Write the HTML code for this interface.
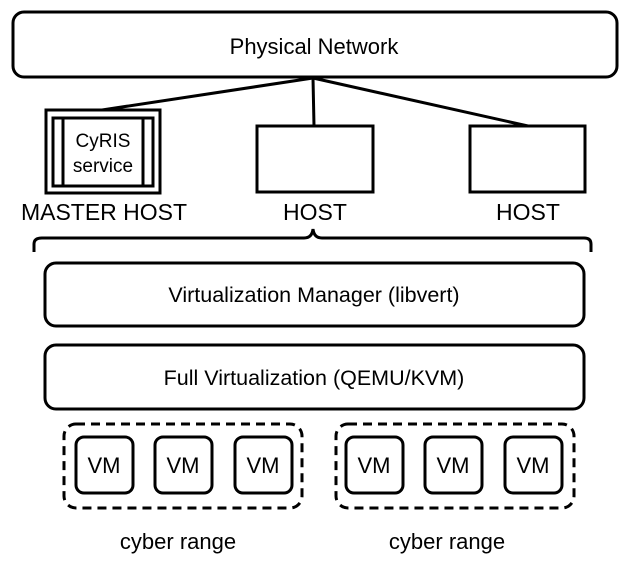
<!DOCTYPE html>
<html><head><style>body{margin:0;background:#fff}</style></head><body>
<svg width="627" height="558" viewBox="0 0 627 558" xmlns="http://www.w3.org/2000/svg" font-family="Liberation Sans, sans-serif" fill="none" stroke="#000">
<rect x="13" y="12" width="604" height="65" rx="11" stroke-width="3"/>
<text x="314" y="54" font-size="22" text-anchor="middle" fill="#000" stroke="none">Physical Network</text>
<g stroke-width="3">
<line x1="102" y1="110" x2="313" y2="78"/>
<line x1="313" y1="78" x2="314" y2="126"/>
<line x1="313" y1="78" x2="528" y2="126"/>
<rect x="46" y="110" width="114" height="83"/>
<rect x="53" y="118" width="100" height="68"/>
<line x1="63" y1="118" x2="63" y2="186"/>
<line x1="143" y1="118" x2="143" y2="186"/>
<rect x="257" y="126" width="116" height="66"/>
<rect x="470" y="126" width="115" height="66"/>
<path d="M34 252 V244 Q34 238 42 238 H304 Q312 238 313 229 Q314 238 322 238 H584 Q591 238 591 244 V252"/>
<rect x="45" y="263" width="539" height="63" rx="11"/>
<rect x="45" y="345" width="539" height="64" rx="11"/>
<rect x="64" y="424" width="238" height="84" rx="12" stroke-dasharray="9,6"/>
<rect x="336" y="424" width="238" height="84" rx="12" stroke-dasharray="9,6"/>
<rect x="76" y="437" width="57" height="56" rx="8"/>
<rect x="155" y="437" width="57" height="56" rx="8"/>
<rect x="235" y="437" width="57" height="56" rx="8"/>
<rect x="346" y="437" width="57" height="56" rx="8"/>
<rect x="425" y="437" width="57" height="56" rx="8"/>
<rect x="505" y="437" width="57" height="56" rx="8"/>
</g>
<g fill="#000" stroke="none" text-anchor="middle">
<text x="103" y="147" font-size="19">CyRIS</text>
<text x="103" y="172" font-size="19">service</text>
<text x="104" y="220" font-size="23">MASTER HOST</text>
<text x="315" y="220" font-size="23">HOST</text>
<text x="528" y="220" font-size="23">HOST</text>
<text x="314" y="302" font-size="21.5">Virtualization Manager (libvert)</text>
<text x="314" y="385" font-size="21.5">Full Virtualization (QEMU/KVM)</text>
<text x="104" y="473" font-size="22">VM</text>
<text x="183" y="473" font-size="22">VM</text>
<text x="263" y="473" font-size="22">VM</text>
<text x="374" y="473" font-size="22">VM</text>
<text x="453" y="473" font-size="22">VM</text>
<text x="533" y="473" font-size="22">VM</text>
<text x="178" y="549" font-size="22">cyber range</text>
<text x="447" y="549" font-size="22">cyber range</text>
</g>
</svg>
</body></html>
